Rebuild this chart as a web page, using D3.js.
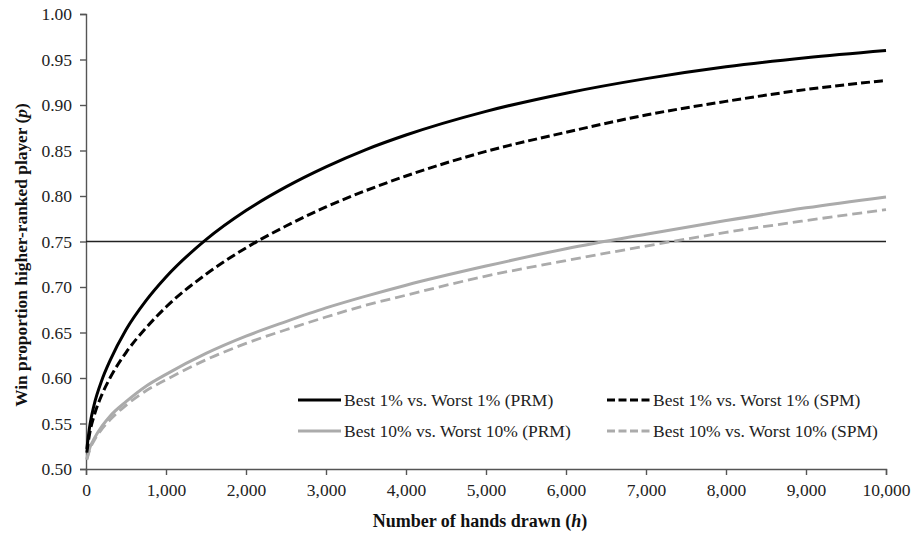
<!DOCTYPE html>
<html>
<head>
<meta charset="utf-8">
<script src="https://cdn.jsdelivr.net/npm/d3@7"></script>
<style>
  body { margin: 0; background: #fff; }
  svg { font-family: "Liberation Serif", "Times New Roman", serif; }
</style>
</head>
<body>
<svg id="chart"></svg>
<script>
const hands = [10, 50, 100, 200, 300, 500, 750, 1000, 1500, 2000, 2500, 3000, 3500, 4000, 5000, 6000, 7000, 8000, 9000, 10000];

const best1Prm = [0.522, 0.549, 0.570, 0.598, 0.619, 0.653, 0.685, 0.711, 0.752, 0.784, 0.810, 0.832, 0.851, 0.867, 0.893, 0.913, 0.929, 0.942, 0.952, 0.960];
const best1Spm = [0.518, 0.541, 0.558, 0.582, 0.600, 0.628, 0.655, 0.678, 0.714, 0.743, 0.767, 0.788, 0.806, 0.822, 0.849, 0.870, 0.889, 0.904, 0.917, 0.927];
const best10Prm = [0.511, 0.524, 0.533, 0.547, 0.558, 0.574, 0.591, 0.604, 0.627, 0.646, 0.662, 0.677, 0.690, 0.702, 0.723, 0.742, 0.758, 0.773, 0.787, 0.799];
const best10Spm = [0.510, 0.522, 0.531, 0.544, 0.554, 0.570, 0.586, 0.598, 0.620, 0.638, 0.653, 0.667, 0.680, 0.691, 0.712, 0.729, 0.745, 0.760, 0.773, 0.785];

const seriesNames = ["Best 1% vs. Worst 1% (PRM)", "Best 1% vs. Worst 1% (SPM)", "Best 10% vs. Worst 10% (PRM)", "Best 10% vs. Worst 10% (SPM)"];
const xTicks = [0, 1000, 2000, 3000, 4000, 5000, 6000, 7000, 8000, 9000, 10000];
const yTicks = [0.50, 0.55, 0.60, 0.65, 0.70, 0.75, 0.80, 0.85, 0.90, 0.95, 1.00];
const threshold = 0.75;

const width = 914;
const height = 534;

const svg = d3.select("#chart")
  .attr("width", width)
  .attr("height", height);

// scales
const x = d3.scaleLinear().domain([0, 10000]).range([86, 886]);
const y = d3.scaleLinear().domain([0.5, 1.0]).range([469, 14]);

const axisColor = "#555";

// axes
const xAxis = d3.axisBottom(x).tickValues(xTicks).tickFormat(d3.format(",")).tickSizeOuter(0).tickSize(6);
const yAxis = d3.axisLeft(y).tickValues(yTicks).tickFormat(d3.format(".2f")).tickSizeOuter(0).tickSize(6);

const gx = svg.append("g")
  .attr("transform", "translate(0," + y(0.5) + ")")
  .call(xAxis);
gx.selectAll("text").attr("font-size", 17.5).attr("fill", "#222").attr("dy", "1.0em");

const gy = svg.append("g")
  .attr("transform", "translate(" + x(0) + ",0)")
  .call(yAxis);
gy.selectAll("text").attr("font-size", 17.5).attr("fill", "#222").attr("x", -14);

svg.selectAll(".domain, .tick line")
  .attr("stroke", axisColor)
  .attr("stroke-width", 1.4);
svg.selectAll(".tick text").attr("font-family", "Liberation Serif");

// reference line at p = 0.75
svg.append("line")
  .attr("x1", x(0)).attr("x2", x(10000))
  .attr("y1", y(threshold)).attr("y2", y(threshold))
  .attr("stroke", "#222")
  .attr("stroke-width", 1.3);

const series = [
  { name: seriesNames[0], values: best1Prm, color: "#000", dash: null, w: 3 },
  { name: seriesNames[1], values: best1Spm, color: "#000", dash: "9,4", w: 3 },
  { name: seriesNames[2], values: best10Prm, color: "#ababab", dash: null, w: 3 },
  { name: seriesNames[3], values: best10Spm, color: "#ababab", dash: "10,5", w: 2.8 }
];

const line = d3.line()
  .x((d) => x(d[0]))
  .y((d) => y(d[1]))
  .curve(d3.curveMonotoneX);

// draw grey first so black sits on top
[2, 3, 0, 1].forEach((i) => {
  const s = series[i];
  svg.append("path")
    .datum(hands.map((h, j) => [h, s.values[j]]))
    .attr("d", line)
    .attr("fill", "none")
    .attr("stroke", s.color)
    .attr("stroke-width", s.w)
    .attr("stroke-dasharray", s.dash);
});

// legend
const legendPos = [[298, 400], [607, 400], [298, 431], [607, 431]];
series.forEach((s, i) => {
  const g = svg.append("g").attr("transform", "translate(" + legendPos[i][0] + "," + legendPos[i][1] + ")");
  g.append("line")
    .attr("x1", 0).attr("x2", 43)
    .attr("stroke", s.color)
    .attr("stroke-width", s.w)
    .attr("stroke-dasharray", s.dash ? "8,3.5" : null);
  g.append("text")
    .attr("x", 46)
    .attr("dy", "0.35em")
    .attr("font-size", 17.5)
    .attr("fill", "#222")
    .text(s.name);
});

// axis titles
const xTitle = svg.append("text")
  .attr("x", 480)
  .attr("y", 527)
  .attr("text-anchor", "middle")
  .attr("font-size", 18)
  .attr("font-weight", "bold")
  .attr("fill", "#111");
xTitle.append("tspan").text("Number of hands drawn (");
xTitle.append("tspan").attr("font-style", "italic").text("h");
xTitle.append("tspan").text(")");

const yTitle = svg.append("text")
  .attr("transform", "translate(27,255) rotate(-90)")
  .attr("text-anchor", "middle")
  .attr("font-size", 17.4)
  .attr("font-weight", "bold")
  .attr("fill", "#111");
yTitle.append("tspan").text("Win proportion higher-ranked player (");
yTitle.append("tspan").attr("font-style", "italic").text("p");
yTitle.append("tspan").text(")");
</script>
</body>
</html>
